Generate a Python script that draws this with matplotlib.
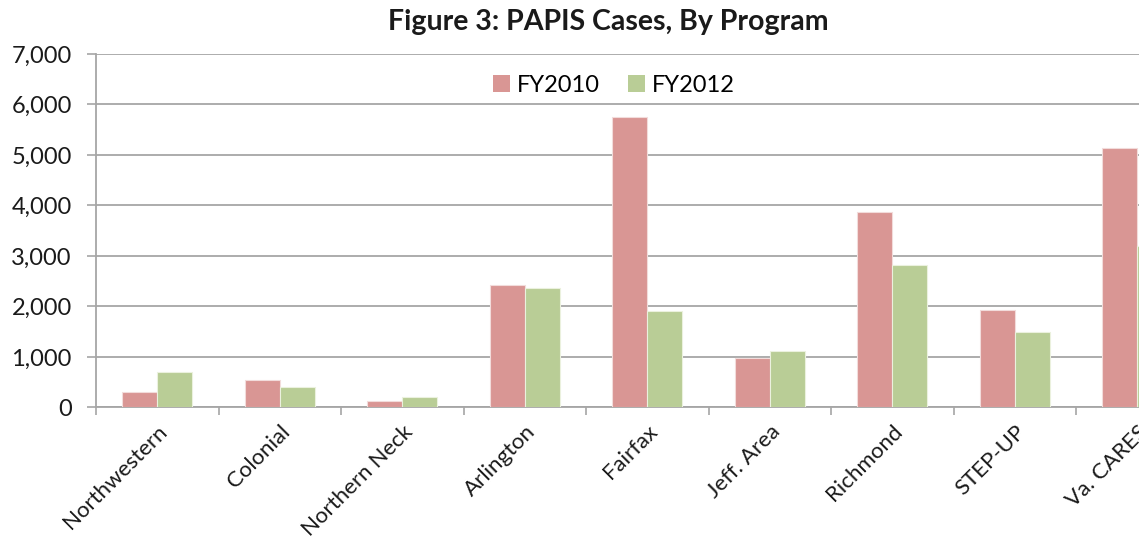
import matplotlib.pyplot as plt
import numpy as np
from matplotlib.ticker import FuncFormatter, FixedLocator
from matplotlib.patches import Patch

plt.rcParams['font.family'] = ['Lato', 'DejaVu Sans']

programs = ['Northwestern', 'Colonial', 'Northern Neck', 'Arlington', 'Fairfax',
            'Jeff. Area', 'Richmond', 'STEP-UP', 'Va. CARES']
fy2010 = [315, 550, 135, 2420, 5755, 970, 3870, 1935, 5130]
fy2012 = [700, 415, 215, 2365, 1910, 1115, 2820, 1500, 3205]
yticks = [0, 1000, 2000, 3000, 4000, 5000, 6000, 7000]

c2010 = '#D99694'
c2012 = '#B9CD96'
grid_c = '#A6A6A6'

fig = plt.figure(figsize=(11.39, 5.39), dpi=100)
# axes runs past the right edge so the last category is cut off like the source
ax = fig.add_axes([0.0843, 0.244, 0.968, 0.656])

x = np.arange(len(programs))
w = 1 / 3.5
ax.bar(x - w / 2, fy2010, w, color=c2010, edgecolor='#F2DCDB', linewidth=0.8,
       label='FY2010', zorder=3)
ax.bar(x + w / 2, fy2012, w, color=c2012, edgecolor='#EBF1DE', linewidth=0.8,
       label='FY2012', zorder=3)

ax.set_xlim(-0.5, len(programs) - 0.5)
ax.set_ylim(0, 7000)
ax.set_yticks(yticks)
ax.yaxis.set_major_formatter(FuncFormatter(lambda v, p: f'{int(v):,}'))
ax.grid(axis='y', color=grid_c, linewidth=1.3, zorder=0)

ax.set_xticks(x)
ax.set_xticklabels(programs, rotation=45, ha='right', rotation_mode='anchor')
ax.tick_params(axis='x', which='major', length=0, pad=10, labelsize=16,
               labelcolor='#1A1A1A')
ax.xaxis.set_minor_locator(FixedLocator(np.arange(-0.5, len(programs), 1)))
ax.tick_params(axis='x', which='minor', length=6, color=grid_c, width=1.2)
ax.tick_params(axis='y', length=6.5, color=grid_c, width=1.2, labelsize=17,
               labelcolor='#1A1A1A', pad=11)

for s in ['top', 'right']:
    ax.spines[s].set_visible(False)
for s in ['left', 'bottom']:
    ax.spines[s].set_color(grid_c)
    ax.spines[s].set_linewidth(1.3)

handles = [Patch(facecolor=c2010, label='FY2010'),
           Patch(facecolor=c2012, label='FY2012')]
fig.legend(handles=handles, loc='center', bbox_to_anchor=(614 / 1139, 1 - 85 / 539),
           ncol=2, frameon=False, fontsize=17, handlelength=0.7, handleheight=0.7,
           handletextpad=0.3, columnspacing=1.2)

fig.text(608 / 1139, 1 - 22 / 539, 'Figure 3: PAPIS Cases, By Program',
         ha='center', va='center', fontsize=20.5, fontweight='bold', color='#1A1A1A')

fig.savefig('out.png', dpi=100)
